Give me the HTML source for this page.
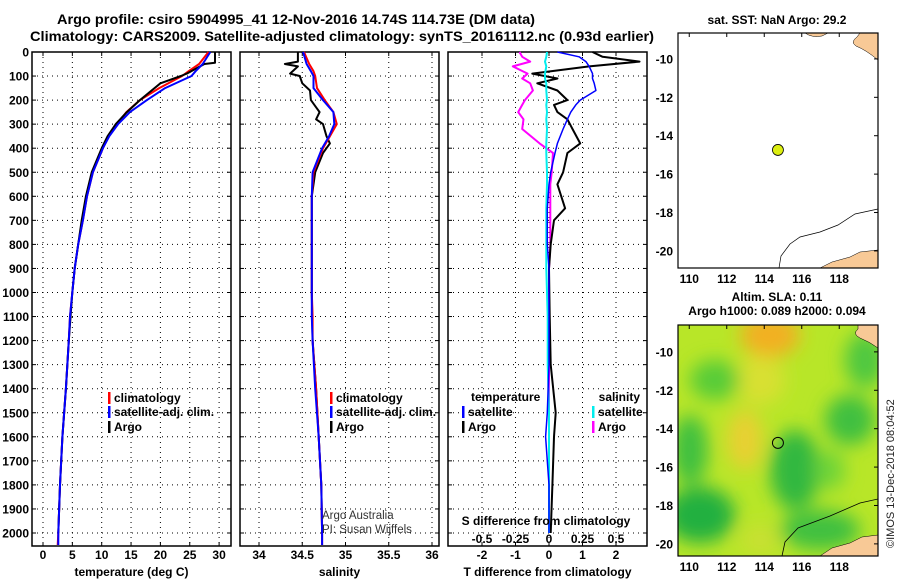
<!DOCTYPE html>
<html><head><meta charset="utf-8">
<style>
body{margin:0;background:#fff;width:900px;height:580px;overflow:hidden;font-family:"Liberation Sans",sans-serif}
svg text{font-family:"Liberation Sans",sans-serif}
</style></head>
<body>
<svg id="chart" width="900" height="580" viewBox="0 0 900 580" xmlns="http://www.w3.org/2000/svg">
<defs>
<filter id="blur" x="-20%" y="-20%" width="140%" height="140%"><feGaussianBlur stdDeviation="9"/></filter>
<clipPath id="m2clip"><rect x="678" y="325" width="200" height="231"/></clipPath>
</defs>
<text x="57" y="24" font-size="14" font-weight="bold" textLength="478" lengthAdjust="spacingAndGlyphs">Argo profile: csiro 5904995_41 12-Nov-2016 14.74S 114.73E (DM data)</text>
<text x="30" y="41" font-size="14" font-weight="bold" textLength="624" lengthAdjust="spacingAndGlyphs">Climatology: CARS2009. Satellite-adjusted climatology: synTS_20161112.nc (0.93d earlier)</text>
<g id="panels"></g>
<text x="322" y="519" font-size="11.5" fill="#333">Argo Australia</text>
<text x="322" y="533" font-size="11.5" fill="#333">PI: Susan Wijffels</text>
<text x="546" y="525" font-size="12" font-weight="bold" text-anchor="middle">S difference from climatology</text>
<text transform="translate(894,548) rotate(-90)" font-size="11" fill="#222">©IMOS 13-Dec-2018 08:04:52</text>
</svg>
<script>
const NS='http://www.w3.org/2000/svg';
const svg=document.getElementById('chart');
const G=document.getElementById('panels');
function mk(tag,a,parent){const e=document.createElementNS(NS,tag);for(const k in a)e.setAttribute(k,a[k]);(parent||G).appendChild(e);return e;}

// ---------- data ----------
const depthTicks=[0,100,200,300,400,500,600,700,800,900,1000,1100,1200,1300,1400,1500,1600,1700,1800,1900,2000];
const tempTicks=[0,5,10,15,20,25,30];
const salTicks=[34,34.5,35,35.5,36];
const tdiffTicks=[-2,-1,0,1,2];
const sdiffTicks=[-0.5,-0.25,0,0.25,0.5];
const sdiffLabels=['-0.5','-0.25','0','0.25','0.5'];

const depthClim=[0,50,80,100,150,200,250,300,350,400,500,600,700,800,900,1000,1100,1200,1400,1600,1800,2000,2050];
const tempClim=[28.2,26.6,24.8,23.7,19.8,16.5,14.2,12.6,11.2,10.2,8.5,7.5,6.8,6.0,5.4,5.0,4.6,4.4,3.9,3.3,2.9,2.6,2.5];
const tempSat=[28.5,27.2,26.0,25.3,20.8,17.7,14.8,12.8,11.3,10.2,8.5,7.5,6.8,6.0,5.4,5.0,4.6,4.4,3.9,3.3,2.9,2.6,2.6];
const depthArgo=[0,45,50,90,100,130,200,250,300,350,400,500,600,700,800,900,1000,1200,1400,1600,1800,2000];
const tempArgo=[29.3,29.3,27.5,24.5,23.5,20.0,16.5,14.3,12.4,11.0,10.0,8.3,7.3,6.6,6.0,5.4,5.0,4.4,3.9,3.3,2.9,2.6];

const salClim=[34.52,34.58,34.63,34.65,34.67,34.76,34.86,34.90,34.82,34.74,34.63,34.61,34.61,34.61,34.61,34.61,34.62,34.62,34.66,34.69,34.72,34.73,34.73];
const salSat=[34.51,34.55,34.60,34.63,34.63,34.74,34.86,34.87,34.81,34.73,34.62,34.61,34.61,34.61,34.61,34.61,34.61,34.62,34.65,34.69,34.72,34.73,34.73];
const depthSalArgo=[0,40,50,60,90,100,130,160,200,230,250,280,300,350,380,420,500,600,800,1000,1200,1400,1600,1800,2000];
const salArgo=[34.45,34.45,34.30,34.45,34.36,34.47,34.50,34.59,34.60,34.66,34.70,34.66,34.74,34.78,34.82,34.74,34.65,34.61,34.61,34.61,34.62,34.66,34.69,34.72,34.73];

const depthDiff=[0,20,40,60,90,110,130,160,200,220,250,280,320,380,420,500,550,650,700,800,900,1100,1300,1500,1600,1800,2000];
const tdiffArgo=[1.3,1.6,2.7,1.2,-0.5,0.25,-0.35,0.25,0.55,0.15,0.25,0.55,0.7,0.93,0.55,0.42,0.25,0.48,0.15,0.05,0.0,0.02,0.05,0.2,0.15,0.1,0.05];
const tdiffSat=[0.25,0.9,1.1,1.2,1.3,1.3,1.35,1.4,0.93,0.8,0.65,0.55,0.42,0.25,0.18,0.05,0.0,-0.05,-0.05,-0.05,0.0,0.0,0.0,-0.05,-0.1,0.0,0.0];
const sdiffArgo=[-0.22,-0.2,-0.14,-0.27,-0.16,-0.2,-0.14,-0.12,-0.18,-0.2,-0.23,-0.19,-0.2,-0.07,0.03,0.02,0.01,0.01,0.01,0.01,0.0,0.0,0.0,0.0,0.0,0.0,0.0];
const sdiffSat=[-0.015,-0.02,-0.03,-0.02,-0.03,-0.03,-0.02,-0.02,-0.015,-0.02,-0.015,-0.02,-0.015,-0.02,-0.02,-0.015,-0.015,-0.02,-0.02,-0.02,-0.02,-0.01,-0.01,0.0,0.0,0.0,0.0];

const lonTicks=[110,112,114,116,118];
const latTicks=[-10,-12,-14,-16,-18,-20];
const floatLon=114.73, floatLat=-14.74;

// ---------- scales ----------
const Y=d=>52+d*0.2405;
const TOP=52,BOT=546;
const xT=v=>43+v*5.87;
const xS=v=>259+(v-34)*86.5;
const xTD=v=>549+v*33.5;
const xSD=v=>549+v*134;

function panel(name,x0,x1,ticks,xf,labels,title,showDepth){
  const g=mk('g',{});
  
  
  depthTicks.forEach(d=>{
    const l=mk('line',{x1:x0,x2:x1,y1:Y(d),y2:Y(d),stroke:'#000','stroke-width':1,'stroke-dasharray':'1,4'},g);
    
    
    const t1=mk('line',{x1:x0,x2:x0+4,y1:Y(d),y2:Y(d),stroke:'#000'},g);
    
    
    const t2=mk('line',{x1:x1-4,x2:x1,y1:Y(d),y2:Y(d),stroke:'#000'},g);
    
    
    if(showDepth){
      const tx=mk('text',{x:29,y:Y(d)+4.5,'font-size':12,'font-weight':'bold','text-anchor':'end'},g);
      
      
      tx.textContent=d;
    }
  });
  ticks.forEach((v,i)=>{
    const x=xf(v);
    const l=mk('line',{x1:x,x2:x,y1:TOP,y2:BOT,stroke:'#000','stroke-dasharray':'1,4'},g);
    
    
    const tk=mk('line',{x1:x,x2:x,y1:BOT-4,y2:BOT,stroke:'#000'},g);
    
    
    const tk2=mk('line',{x1:x,x2:x,y1:TOP,y2:TOP+4,stroke:'#000'},g);
    
    
    const tx=mk('text',{x:x,y:559,'font-size':12,'font-weight':'bold','text-anchor':'middle'},g);
    
    
    tx.textContent=labels[i];
  });
  const r=mk('rect',{x:x0,y:TOP,width:x1-x0,height:BOT-TOP,fill:'none',stroke:'#000','stroke-width':1.5},g);
  
  
  const tt=mk('text',{x:(x0+x1)/2,y:576,'font-size':12,'font-weight':'bold','text-anchor':'middle'},g);
  
  
  tt.textContent=title;
  return g;
}
function line(g,name,ds,vs,xf,color,w){
  const pts=ds.map((d,i)=>xf(vs[i]).toFixed(1)+','+Y(d).toFixed(1)).join(' ');
  const p=mk('polyline',{points:pts,fill:'none',stroke:color,'stroke-width':w,'stroke-linejoin':'round'},g);
  
  
}
function leg(g,name,x,y,color,label){
  const b=mk('rect',{x:x,y:y-10,width:2.5,height:12,fill:color},g);
  
  
  const t=mk('text',{x:x+6,y:y,'font-size':12,'font-weight':'bold'},g);
  
  
  t.textContent=label;
}
function txt(g,name,x,y,s,anchor){
  const t=mk('text',{x:x,y:y,'font-size':12,'font-weight':'bold','text-anchor':anchor||'start'},g);
  
  
  t.textContent=s;
}

// Panel 1 temperature
const p1=panel('temperature',32,231,tempTicks,xT,tempTicks.map(String),'temperature (deg C)',true);
line(p1,'temp-climatology-line',depthClim,tempClim,xT,'#f00',2);
line(p1,'temp-argo-line',depthArgo,tempArgo,xT,'#000',2);
line(p1,'temp-satellite-line',depthClim,tempSat,xT,'#00f',2);
leg(p1,'legend-climatology',108,402,'#f00','climatology');
leg(p1,'legend-satellite',108,416,'#00f','satellite-adj. clim.');
leg(p1,'legend-argo',108,431,'#000','Argo');

// Panel 2 salinity
const p2=panel('salinity',240,439,salTicks,xS,['34','34.5','35','35.5','36'],'salinity',false);
line(p2,'sal-argo-line',depthSalArgo,salArgo,xS,'#000',2);
line(p2,'sal-climatology-line',depthClim,salClim,xS,'#f00',2);
line(p2,'sal-satellite-line',depthClim,salSat,xS,'#00f',2);
leg(p2,'legend-sal-climatology',330,402,'#f00','climatology');
leg(p2,'legend-sal-satellite',330,416,'#00f','satellite-adj. clim.');
leg(p2,'legend-sal-argo',330,431,'#000','Argo');

// Panel 3 differences
const p3=panel('difference',448,647,tdiffTicks,xTD,['-2','-1','0','1','2'],'T difference from climatology',false);
line(p3,'sdiff-argo-line',depthDiff,sdiffArgo,xSD,'#f0f',2);
line(p3,'tdiff-argo-line',depthDiff,tdiffArgo,xTD,'#000',2);
line(p3,'sdiff-satellite-line',depthDiff,sdiffSat,xSD,'#0ee',2);
line(p3,'tdiff-satellite-line',depthDiff,tdiffSat,xTD,'#00f',1.5);
sdiffTicks.forEach((v,i)=>txt(p3,'s-diff-tick-label',xSD(v),543,sdiffLabels[i],'middle'));
txt(p3,'legend-temperature-heading',471,401,'temperature');
txt(p3,'legend-salinity-heading',640,401,'salinity','end');
leg(p3,'legend-tdiff-satellite',462,416,'#00f','satellite');
leg(p3,'legend-tdiff-argo',462,431,'#000','Argo');
leg(p3,'legend-sdiff-satellite',592,416,'#0ee','satellite');
leg(p3,'legend-sdiff-argo',592,431,'#f0f','Argo');

// ---------- maps ----------
const LX=lon=>678+(lon-109.4)*18.75;
function map(name,top,bottom,latTop){
  const LY=lat=>top+(latTop-lat)*19.2;
  const g=mk('g',{});
  
  
  return {g,LY};
}
function mapAxes(m,top,bottom){
  const g=m.g;
  const r=mk('rect',{x:678,y:top,width:200,height:bottom-top,fill:'none',stroke:'#000','stroke-width':1.2},g);
  
  
  latTicks.forEach(l=>{
    const y=m.LY(l);
    const t=mk('text',{x:673,y:y+4.5,'font-size':12,'font-weight':'bold','text-anchor':'end'},g);
    
    
    t.textContent=l;
    const k=mk('line',{x1:874,x2:878,y1:y,y2:y,stroke:'#000'},g);
    
    
  });
  lonTicks.forEach(l=>{
    const x=LX(l);
    const t=mk('text',{x:x,y:bottom+15,'font-size':12,'font-weight':'bold','text-anchor':'middle'},g);
    
    
    t.textContent=l;
    const k=mk('line',{x1:x,x2:x,y1:top,y2:top+4,stroke:'#000'},g);
    
    
  });
}
// Map 1 SST
const m1=map('sst-map',33,268,-8.65);
const land1=mk('path',{d:'M857,37 Q850,42 856,46 Q866,50 878,60 L878,33 L860,33 Z M820,268 L832,262 L850,257 L860,252 L878,250 L878,268 Z M805,33 Q812,38 822,36 L828,33 Z',fill:'#f8c996',stroke:'#000','stroke-width':0.5},m1.g);


const c1=mk('path',{d:'M779,268 L781,256 L790,244 L800,237 L820,232 L838,225 L855,214 L878,209',fill:'none',stroke:'#000','stroke-width':0.7},m1.g);


mapAxes(m1,33,268);
const dot1=mk('circle',{cx:LX(floatLon),cy:m1.LY(floatLat),r:5.5,fill:'#dcee10',stroke:'#000','stroke-width':0.8},m1.g);


txt(m1.g,'sst-map-title',777,24,'sat. SST: NaN Argo: 29.2','middle');

// Map 2 SLA
const m2=map('sla-map',325,556,-8.6);
const fg=mk('g',{'clip-path':'url(#m2clip)'},m2.g);


const bg=mk('rect',{x:678,y:325,width:200,height:231,fill:'#b8e628'},fg);


const blobs=mk('g',{filter:'url(#blur)'},fg);


[[770,335,30,22,'#f2b020'],[745,440,18,30,'#e8d030'],[760,380,25,25,'#d8e030'],
 [700,515,35,28,'#22b040'],[690,450,18,35,'#40c040'],[795,470,25,40,'#30b840'],
 [850,420,25,25,'#40c040'],[865,360,20,28,'#50c840'],[820,530,40,20,'#40c040'],
 [715,380,25,20,'#58cc38'],[830,470,15,20,'#70d438'],[760,540,20,15,'#c8e030']].forEach(b=>{
  const e=mk('ellipse',{cx:b[0],cy:b[1],rx:b[2],ry:b[3],fill:b[4]},blobs);
  
  
});
const land2=mk('path',{d:'M820,556 L832,548 L850,543 L862,537 L878,535 L878,556 Z M858,329 Q852,334 860,338 Q870,342 878,348 L878,325 L858,325 Z',fill:'#f8c996',stroke:'#000','stroke-width':0.5},fg);


const c2=mk('path',{d:'M782,556 L785,542 L798,528 L830,516 L860,503 L878,499',fill:'none',stroke:'#000','stroke-width':0.8},fg);


mapAxes(m2,325,556);
const dot2=mk('circle',{cx:LX(floatLon),cy:m2.LY(floatLat),r:5.5,fill:'none',stroke:'#000','stroke-width':1},m2.g);


txt(m2.g,'sla-map-title',777,301,'Altim. SLA: 0.11','middle');
txt(m2.g,'sla-map-subtitle',777,315,'Argo h1000: 0.089 h2000: 0.094','middle');
</script>
</body></html>
